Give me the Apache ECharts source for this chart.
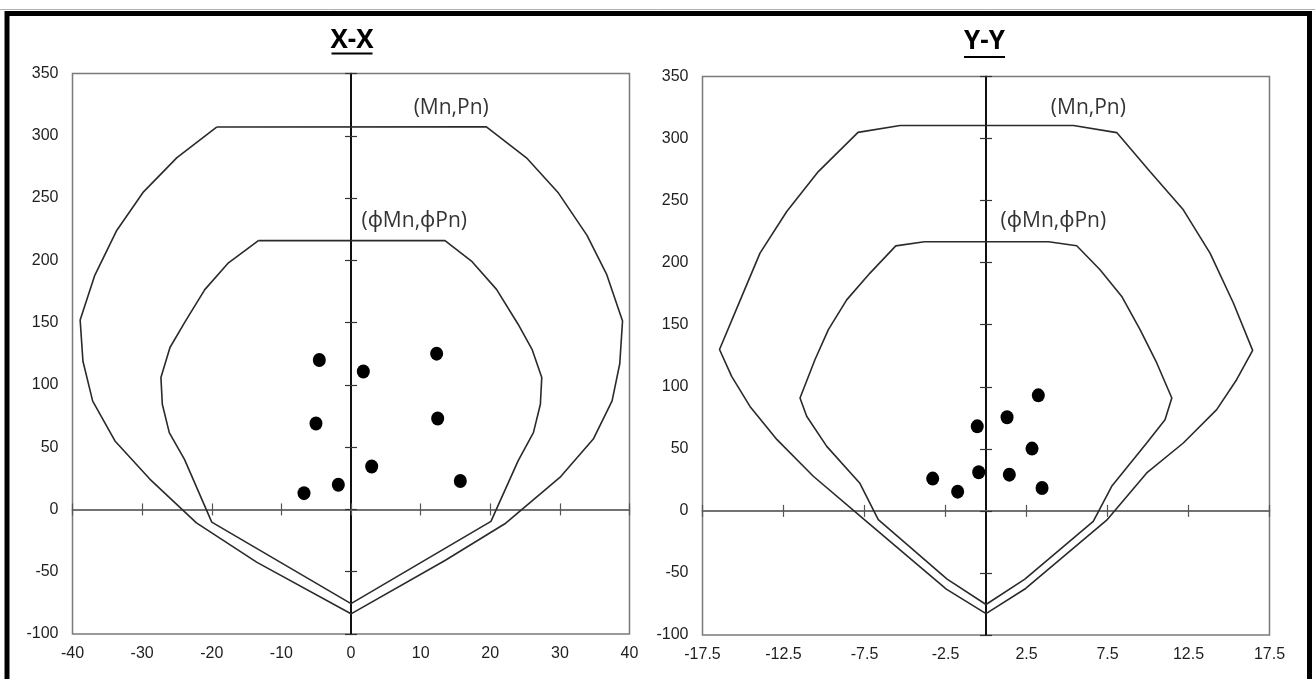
<!DOCTYPE html>
<html>
<head>
<meta charset="utf-8">
<script src="https://cdn.jsdelivr.net/npm/echarts@6.0.0/dist/echarts.min.js"></script>
<style>
  html, body { margin: 0; padding: 0; background: #fff; }
  #chart { width: 1315px; height: 679px; }
</style>
</head>
<body>
<div id="chart"></div>
<script>
// ---------------- DATA ----------------
// X-X diagram (left)
const xxTickValues = [-40, -30, -20, -10, 0, 10, 20, 30, 40];
const yTickValues = [-100, -50, 0, 50, 100, 150, 200, 250, 300, 350];

// Nominal strength curve (Mn, Pn) — X-X
const xxNominal = [
  [-19.3, 307], [-25.0, 282.5], [-29.8, 255], [-33.7, 223.5], [-36.8, 188],
  [-38.9, 152], [-38.5, 119], [-37.1, 87], [-33.9, 55], [-28.9, 24.4],
  [-22.2, -10.8], [-13.5, -42.5], [0, -83.8], [13.5, -41], [22.1, -11.5],
  [30.0, 25.7], [34.8, 56.5], [37.5, 87.2], [38.6, 117], [39.0, 151.3],
  [36.7, 189], [33.9, 220], [29.8, 254], [25.2, 282.3], [19.4, 307.3],
  [-19.3, 307]
];
// Design strength curve (phiMn, phiPn) — X-X
const xxDesign = [
  [-13.3, 215.8], [-17.6, 198], [-21.0, 176.5], [-23.8, 151], [-26.0, 130],
  [-27.3, 106], [-27.1, 84.5], [-26.1, 61.7], [-23.9, 40], [-20.0, -10.2],
  [0, -75.6], [20.1, -9.6], [24.0, 39], [26.2, 61.7], [27.2, 84.5],
  [27.4, 106], [26.0, 128.6], [24.0, 148.7], [20.9, 176.7], [17.3, 199.4],
  [13.5, 215.8], [-13.3, 215.8]
];
// Applied loads (Mu, Pu) — X-X
const xxLoads = [
  [-4.55, 120], [1.77, 110.7], [12.3, 125.1], [-5.03, 69], [12.45, 73],
  [2.97, 34.5], [-1.82, 19.8], [-6.75, 13.1], [15.7, 22.8]
];

// Y-Y diagram (right)
const yyTickValues = [-17.5, -12.5, -7.5, -2.5, 2.5, 7.5, 12.5, 17.5];

const yyNominal = [
  [-5.3, 310.5], [-7.9, 305], [-10.35, 273.4], [-12.3, 241.2], [-13.95, 207.7],
  [-15.1, 172], [-16.45, 130], [-15.7, 108.4], [-14.57, 84.2], [-12.9, 57.4],
  [-10.66, 27.9], [-7.6, -6], [-2.45, -63], [0, -82.8], [2.45, -62.5],
  [7.45, -7.5], [9.92, 30.6], [12.18, 54.7], [14.24, 81.6], [15.47, 105.7],
  [16.46, 129.3], [15.27, 167.5], [13.83, 207.7], [12.18, 242.6], [10.12, 273.4],
  [8.07, 304.8], [5.4, 310.5], [-5.3, 310.5]
];
const yyDesign = [
  [-3.8, 216.8], [-5.57, 213.5], [-7.16, 191.6], [-8.6, 170], [-9.73, 146],
  [-10.56, 121.8], [-11.48, 91], [-11.07, 76.2], [-9.83, 52], [-7.8, 22.5],
  [-6.65, -7], [-2.4, -55], [0, -75.4], [2.4, -55], [6.62, -8.4],
  [7.76, 19.8], [9.92, 54.7], [11.05, 73.5], [11.47, 91], [10.54, 119.2],
  [9.51, 146], [8.38, 172.8], [7.04, 194.3], [5.6, 213.6], [3.86, 216.8],
  [-3.8, 216.8]
];
const yyLoads = [
  [3.23, 93.1], [1.30, 75.4], [-0.54, 68.1], [2.84, 50.2], [-0.45, 31.1],
  [1.44, 29.2], [-3.29, 26], [-1.75, 15.5], [3.46, 18.5]
];

const titles = ['X-X', 'Y-Y'];
const curveLabels = ['(Mn,Pn)', '(\u03D5Mn,\u03D5Pn)'];

// ---------------- CHART ----------------
const chart = echarts.init(document.getElementById('chart'), null, { renderer: 'canvas' });

const TICK_FONT = 'Liberation Sans, Arial, sans-serif';
const LABEL_FONT = '"Open Sans", "Noto Sans", "DejaVu Sans", sans-serif';

const grids = [
  { left: 72.5, top: 73.5, width: 557, height: 560.5, show: true, borderColor: '#7a7a7a', borderWidth: 1.5, backgroundColor: 'transparent', outerBoundsMode: 'none' },
  { left: 702.5, top: 76.5, width: 567, height: 558.5, show: true, borderColor: '#7a7a7a', borderWidth: 1.5, backgroundColor: 'transparent', outerBoundsMode: 'none' }
];

function step(arr) { return arr[1] - arr[0]; }

function xAxesFor(gridIndex, ticks, yIdxBase) {
  const base = {
    type: 'value', gridIndex, min: ticks[0], max: ticks[ticks.length - 1], interval: step(ticks),
    splitLine: { show: false }
  };
  return [
    Object.assign({}, base, {
      position: 'bottom',
      axisLine: { show: false, onZero: false },
      axisTick: { show: false },
      axisLabel: { show: true, color: '#1e1e1e', fontFamily: TICK_FONT, fontSize: 16, margin: 12,
        formatter: v => String(v) }
    }),
    Object.assign({}, base, {
      position: 'bottom',
      axisLine: { show: true, onZero: true, onZeroAxisIndex: yIdxBase, lineStyle: { color: '#6a6a6a', width: 1.5 } },
      axisTick: { show: true, inside: true, length: 6, lineStyle: { color: '#555', width: 1.2 } },
      axisLabel: { show: false }
    }),
    Object.assign({}, base, {
      position: 'bottom',
      axisLine: { show: true, onZero: true, onZeroAxisIndex: yIdxBase, lineStyle: { color: '#6a6a6a', width: 1.5 } },
      axisTick: { show: true, inside: false, length: 6, lineStyle: { color: '#555', width: 1.2 } },
      axisLabel: { show: false }
    })
  ];
}

function yAxesFor(gridIndex, ticks, xIdxBase) {
  const base = {
    type: 'value', gridIndex, min: ticks[0], max: ticks[ticks.length - 1], interval: step(ticks),
    splitLine: { show: false }
  };
  return [
    Object.assign({}, base, {
      position: 'left',
      axisLine: { show: false, onZero: false },
      axisTick: { show: false },
      axisLabel: { show: true, color: '#1e1e1e', fontFamily: TICK_FONT, fontSize: 16, margin: 14 }
    }),
    Object.assign({}, base, {
      position: 'left',
      axisLine: { show: true, onZero: true, onZeroAxisIndex: xIdxBase, lineStyle: { color: '#000', width: 1.5 } },
      axisTick: { show: true, inside: true, length: 6, lineStyle: { color: '#333', width: 1.2 } },
      axisLabel: { show: false }
    }),
    Object.assign({}, base, {
      position: 'left',
      axisLine: { show: true, onZero: true, onZeroAxisIndex: xIdxBase, lineStyle: { color: '#000', width: 1.5 } },
      axisTick: { show: true, inside: false, length: 6, lineStyle: { color: '#333', width: 1.2 } },
      axisLabel: { show: false }
    })
  ];
}

const xAxes = [].concat(xAxesFor(0, xxTickValues, 0), xAxesFor(1, yyTickValues, 3));
const yAxes = [].concat(yAxesFor(0, yTickValues, 0), yAxesFor(1, yTickValues, 3));

function curveSeries(data, xi, yi) {
  return {
    type: 'line', data, xAxisIndex: xi, yAxisIndex: yi, showSymbol: false, symbol: 'none',
    lineStyle: { color: '#2a2a2a', width: 1.6 }, smooth: false, z: 3, silent: true, clip: false
  };
}
function loadSeries(data, xi, yi) {
  return {
    type: 'scatter', data, xAxisIndex: xi, yAxisIndex: yi, symbol: 'circle', symbolSize: [13, 14],
    itemStyle: { color: '#000', opacity: 1 }, z: 5, silent: true
  };
}
function labelSeries(anchor, text, xi, yi) {
  return {
    type: 'scatter', data: [anchor], xAxisIndex: xi, yAxisIndex: yi, symbolSize: 0, z: 6, silent: true,
    label: { show: true, position: 'right', distance: 0, formatter: text,
      color: '#000', fontFamily: LABEL_FONT, fontSize: 21 }
  };
}

// annotation anchors (data units of each diagram)
const anchorsXX = [[9.0, 322], [1.5, 231.5]];
const anchorsYY = [[4.0, 325], [0.9, 233.7]];

const series = [
  curveSeries(xxNominal, 0, 0),
  curveSeries(xxDesign, 0, 0),
  loadSeries(xxLoads, 0, 0),
  labelSeries(anchorsXX[0], curveLabels[0], 0, 0),
  labelSeries(anchorsXX[1], curveLabels[1], 0, 0),
  curveSeries(yyNominal, 3, 3),
  curveSeries(yyDesign, 3, 3),
  loadSeries(yyLoads, 3, 3),
  labelSeries(anchorsYY[0], curveLabels[0], 3, 3),
  labelSeries(anchorsYY[1], curveLabels[1], 3, 3)
];

function titleGraphic(text, cx, cy, underlineY, halfW) {
  return [
    { type: 'text', z: 10, style: { text, x: cx, y: cy, align: 'center', verticalAlign: 'middle',
        font: 'bold 26px "Open Sans", "Noto Sans", sans-serif', fill: '#000' } },
    { type: 'line', z: 10, shape: { x1: cx - halfW, y1: underlineY, x2: cx + halfW, y2: underlineY },
      style: { stroke: '#000', lineWidth: 2.2 } }
  ];
}

const graphic = [
  { type: 'line', z: 9, shape: { x1: 0, y1: 9.5, x2: 1315, y2: 9.5 }, style: { stroke: '#b0b0b0', lineWidth: 1 } },
  { type: 'rect', z: 10, shape: { x: 7, y: 13.5, width: 1302.5, height: 700 },
    style: { fill: 'none', stroke: '#000', lineWidth: 5 } }
].concat(titleGraphic(titles[0], 352, 41, 53.5, 20.5), titleGraphic(titles[1], 984.5, 42, 57, 20.5));

chart.setOption({
  animation: false,
  backgroundColor: '#fff',
  grid: grids,
  xAxis: xAxes,
  yAxis: yAxes,
  series,
  graphic
});
</script>
</body>
</html>
